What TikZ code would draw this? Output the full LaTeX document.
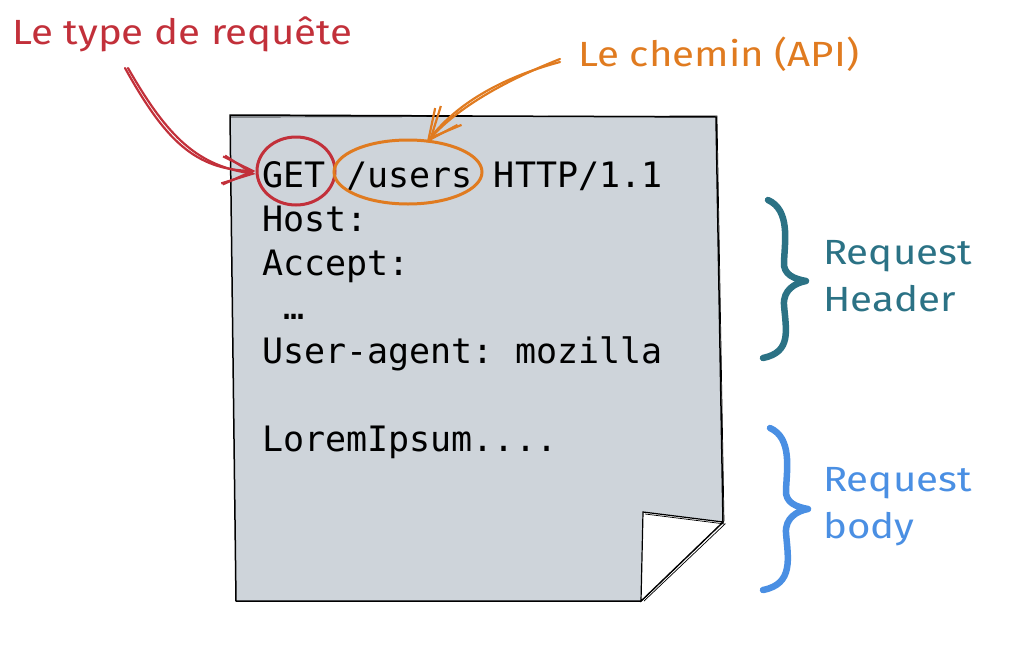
\documentclass[tikz,border=0pt]{standalone}
\usepackage{fontspec}
\setmonofont{DejaVu Sans Mono}
\newfontfamily\handfont[FakeStretch=1.15]{Fira Sans}
\usetikzlibrary{positioning}
\usetikzlibrary{shapes.geometric,arrows.meta}

\definecolor{paper}{HTML}{CED4DA}
\definecolor{reqred}{HTML}{C2303A}
\definecolor{reqorange}{HTML}{E07B20}
\definecolor{reqteal}{HTML}{2B7285}
\definecolor{reqblue}{HTML}{4A8FE3}

\tikzset{
 code/.style={anchor=base west,inner sep=0pt,font=\ttfamily\fontsize{35}{42}\selectfont},
 hand/.style={anchor=base west,inner sep=0pt,font=\handfont\fontsize{35}{47}\selectfont},
 ring/.style={ellipse,draw,line width=3pt,inner sep=0pt},
 sketchy/.style={line width=2.2pt,line cap=round,-{Straight Barb[length=30pt,width=28pt,line width=2.2pt]}},
 curly/.style={line width=6.5pt,line cap=round,line join=round}
}

\begin{document}
\begin{tikzpicture}[x=1pt,y=-1pt]
 \useasboundingbox (0,0) rectangle (1023,656);
 \draw[fill=paper,line width=1.5pt,line join=round](230,115)--(716,117)--(723,522)--(641,601)--(236,601)--cycle;
 \draw[line width=0.7pt](231,117)--(717,116)--(724,521);
 \draw[fill=white,line width=1.2pt](643,512)--(723,522)--(641,601)--cycle;
 \draw[line width=0.7pt](645,514)--(725,524)--(644,601);

 \node[code] (l1) at (262,187) {GET /users HTTP/1.1};
 \node[code] (l2) at (262,231) {Host:};
 \node[code] (l3) at (262,275) {Accept:};
 \node[code] (l4) at (262,319) {\ …};
 \node[code] (l5) at (262,363) {User-agent: mozilla};
 \node[code] (l6) at (262,451) {LoremIpsum....};

 \node[ring,draw=reqred,minimum width=78,minimum height=68] (get) at (296,171) {};
 \node[ring,draw=reqorange,minimum width=148,minimum height=64] (path) at (408,172) {};

 \node[hand,text=reqred] (kind) at (12,44) {Le type de requête};
 \node[hand,text=reqorange] (route) at (578,66) {Le chemin (API)};
 \node[hand,text=reqteal,align=left] (head) at (823,311) {Request\\Header};
 \node[hand,text=reqblue,align=left] (body) at (823,538) {Request\\body};

 \coordinate (redtail) at (125,68);
 \coordinate (orangetail) at (560,62);
 \draw[sketchy,draw=reqred](redtail) .. controls (165,140) and (195,170) .. (get.west);
 \draw[sketchy,draw=reqred]([xshift=3pt]redtail) .. controls (168,138) and (198,166) .. ([yshift=-3pt]get.west);
 \draw[sketchy,draw=reqorange](orangetail) .. controls (500,78) and (455,105) .. ([yshift=-3pt]path.60);
 \draw[sketchy,draw=reqorange]([yshift=3pt]orangetail) .. controls (502,82) and (458,108) .. ([xshift=2.5pt]path.60);

 \draw[curly,reqteal](768,200) .. controls (790,210) and (785,240) .. (784,262) .. controls (783,275) and (795,279) .. (806,281) .. controls (795,283) and (783,290) .. (784,305) .. controls (786,330) and (792,352) .. (763,358);
 \draw[curly,reqblue](770,428) .. controls (792,438) and (787,468) .. (786,490) .. controls (785,503) and (797,507) .. (808,509) .. controls (797,511) and (785,518) .. (786,533) .. controls (788,558) and (794,584) .. (763,590);
\end{tikzpicture}
\end{document}
